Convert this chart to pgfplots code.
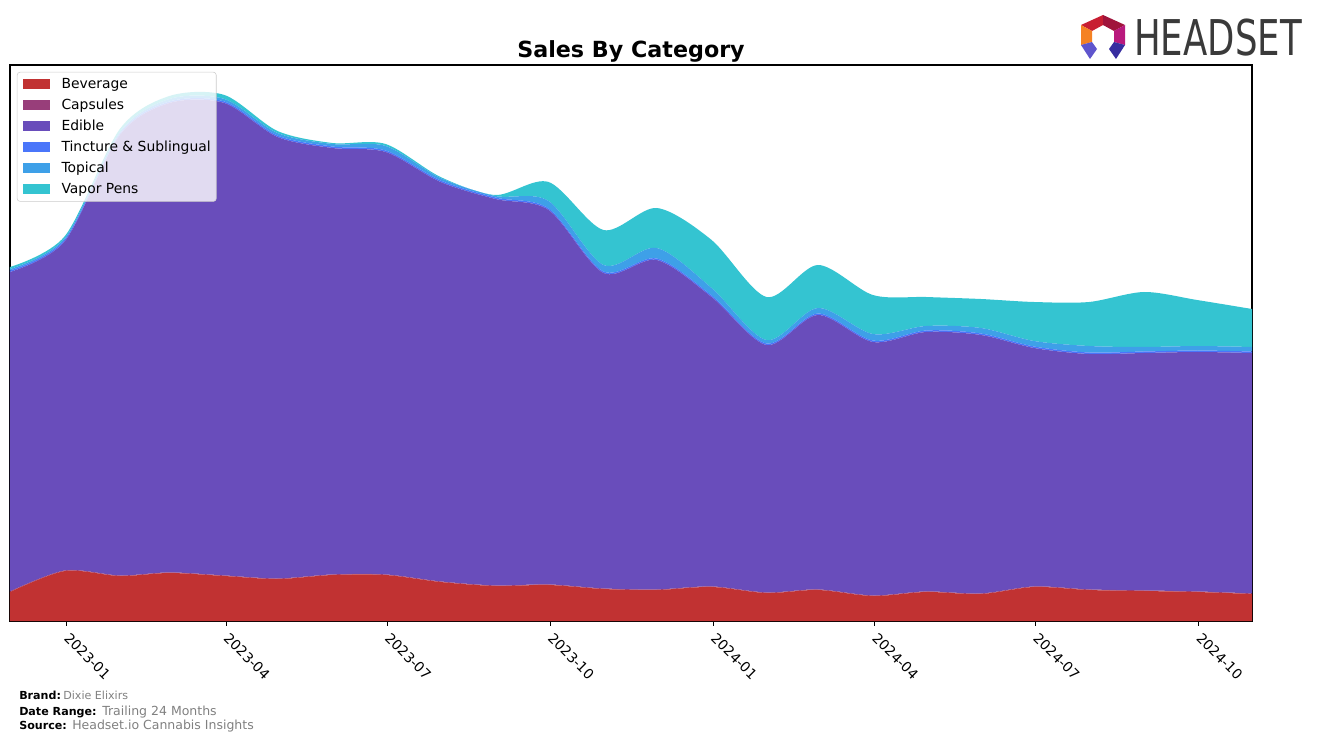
\documentclass[border=0pt]{standalone}
\usepackage{pgfplots}
\pgfplotsset{compat=1.18}
\usepackage{pgfplotstable}
\usepackage{fontspec}
\setmainfont{DejaVu Sans}
\usepackage{graphicx}

\definecolor{cbev}{RGB}{193,50,50}
\definecolor{ccap}{RGB}{152,62,122}
\definecolor{cedi}{RGB}{105,77,187}
\definecolor{ctin}{RGB}{74,118,250}
\definecolor{ctop}{RGB}{62,160,232}
\definecolor{cvap}{RGB}{52,196,209}
\definecolor{footgray}{RGB}{128,128,128}
\definecolor{logogray}{RGB}{58,58,58}
\definecolor{lg1}{RGB}{200,30,50}
\definecolor{lg2}{RGB}{160,20,60}
\definecolor{lg3}{RGB}{185,25,125}
\definecolor{lg4}{RGB}{245,130,35}
\definecolor{lg5}{RGB}{95,85,205}
\definecolor{lg6}{RGB}{55,45,160}

\pgfplotstableread{
d bev cap edi tin top vap
-32 29 0.6 319.4 1.5 1.5 2
-1 50 0.6 329.4 1.5 1.5 2
30 45 0.6 440.4 1.5 1.5 3
58 48 0.6 469.4 1.5 2.5 3
89 45 0.6 472.4 1.5 2.5 4
119 42 0.6 441.4 1.5 2.5 2
150 46 0.6 426.4 1.5 2.5 1
180 46 0.6 422.4 1.5 4.5 2
211 39 0.6 399.4 1.5 2.5 1
242 35 0.6 386.4 1.5 1.5 1
272 36 0.6 374.4 1.5 7.5 19
303 32 0.6 315.4 1.5 6.5 35
333 31 0.6 329.4 1.5 10.5 40
364 34 0.6 289.4 1.5 7.5 48
395 28 0.6 247.4 1.5 3.5 43
424 31 0.6 274.4 1.5 5.5 43
455 25 0.6 253.4 1.5 6.5 39
485 29 0.6 259.4 1.5 4.5 29
516 27 0.6 258.4 1.5 5.5 29
546 34 0.6 238.4 1.5 5.5 39
577 31 0.6 235.4 1.5 6.5 44
608 30 0.6 237.4 1.5 4.5 55
638 29 0.6 239.4 1.5 4.5 46
669 27 0.6 240.4 1.5 4.5 38
}\data

\begin{document}
\begin{tikzpicture}
\useasboundingbox (-7.2pt,-86.4pt) rectangle (941.04pt,447.12pt);
\begin{axis}[
  at={(0,0)}, anchor=south west,
  scale only axis, width=894.24pt, height=400.32pt,
  xmin=-32, xmax=669, ymin=0, ymax=556,
  stack plots=y,
  axis line style={line width=0.8pt},
  xtick={0,90,181,273,365,456,547,639},
  xticklabels={2023-01,2023-04,2023-07,2023-10,2024-01,2024-04,2024-07,2024-10},
  x tick label style={rotate=-45, anchor=north west, font=\fontsize{10}{12}\selectfont, inner sep=1pt, xshift=4pt},
  ytick=\empty,
  tick align=outside, xtick pos=left,
  major tick length=3.5pt,
  tick style={black, line width=0.8pt},
  legend cell align=left,
  legend style={at={(0,1)}, anchor=north west, xshift=5pt, yshift=-5pt,
    draw={rgb,255:red,204;green,204;blue,204}, fill=white, fill opacity=0.8, text opacity=1,
    rounded corners=2pt, inner sep=4pt, font=\fontsize{10}{12}\selectfont,
    nodes={inner sep=0pt, text height=7.5pt, text depth=2pt}, row sep=5.6pt,
    /tikz/every odd column/.append style={column sep=8.5pt}},
  legend image code/.code={\fill[#1, fill opacity=1, sharp corners] (0pt,-3.6pt) rectangle (19.4pt,3.6pt);},
]
\addplot[fill=cbev, draw=none, smooth] table[x=d, y=bev] {\data} \closedcycle;
\addlegendentry{Beverage}
\addplot[fill=ccap, draw=none, smooth] table[x=d, y=cap] {\data} \closedcycle;
\addlegendentry{Capsules}
\addplot[fill=cedi, draw=none, smooth] table[x=d, y=edi] {\data} \closedcycle;
\addlegendentry{Edible}
\addplot[fill=ctin, draw=none, smooth] table[x=d, y=tin] {\data} \closedcycle;
\addlegendentry{Tincture \& Sublingual}
\addplot[fill=ctop, draw=none, smooth] table[x=d, y=top] {\data} \closedcycle;
\addlegendentry{Topical}
\addplot[fill=cvap, draw=none, smooth] table[x=d, y=vap] {\data} \closedcycle;
\addlegendentry{Vapor Pens}
\end{axis}
\begin{scope}[x=0.72pt, y=-0.72pt, shift={(-10,-621)}]
  \node[font=\fontsize{16}{19}\bfseries\selectfont, anchor=base] at (631,58) {Sales By Category};
  % footer
  \node[anchor=base west, inner sep=0pt, font=\fontsize{8}{10}\bfseries\selectfont] at (19,699) {Brand:};
  \node[anchor=base west, inner sep=0pt, font=\fontsize{8}{10}\selectfont, text=footgray] at (63,699) {Dixie Elixirs};
  \node[anchor=base west, inner sep=0pt, font=\fontsize{8}{10}\bfseries\selectfont] at (19,715) {Date Range:};
  \node[anchor=base west, inner sep=0pt, font=\fontsize{9}{11}\selectfont, text=footgray] at (102,715) {Trailing 24 Months};
  \node[anchor=base west, inner sep=0pt, font=\fontsize{8}{10}\bfseries\selectfont] at (19,729) {Source:};
  \node[anchor=base west, inner sep=0pt, font=\fontsize{9}{11}\selectfont, text=footgray] at (72,729) {Headset.io Cannabis Insights};
  % logo
  \node[anchor=base west, inner sep=0pt, text=logogray, font=\fontsize{35.5}{40}\selectfont] at (1134,56) {\scalebox{0.72}[1]{HEADSET}};
  \fill[lg1] (1081,25) -- (1103,15) -- (1103,25) -- (1092,31) -- cycle;
  \fill[lg2] (1103,15) -- (1125,25) -- (1114,31) -- (1103,25) -- cycle;
  \fill[lg3] (1125,25) -- (1125,45) -- (1114,42) -- (1114,31) -- cycle;
  \fill[lg4] (1081,25) -- (1092,31) -- (1092,42) -- (1081,45) -- cycle;
  \fill[lg5] (1081,45) -- (1092,42) -- (1097,49) -- (1090,59) -- cycle;
  \fill[lg6] (1125,45) -- (1114,42) -- (1109,49) -- (1116,59) -- cycle;
\end{scope}
\end{tikzpicture}
\end{document}
